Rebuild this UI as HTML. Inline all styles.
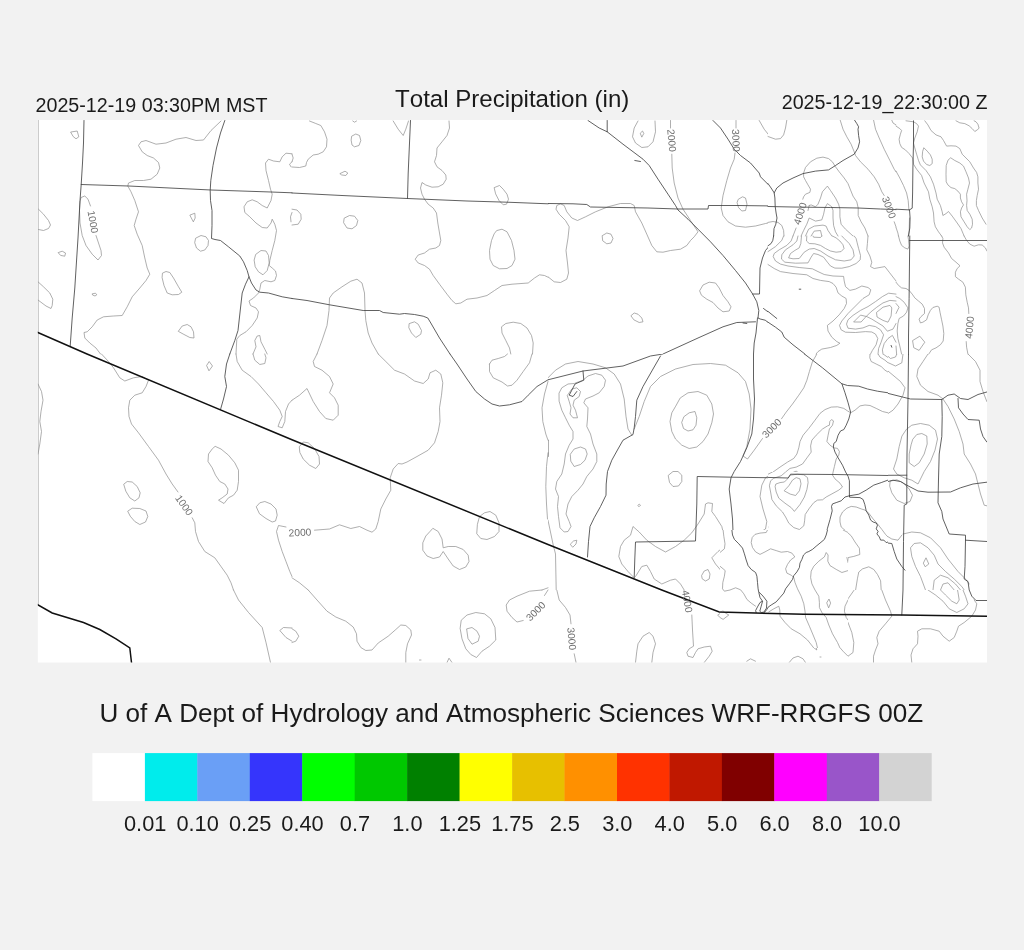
<!DOCTYPE html>
<html><head><meta charset="utf-8"><title>Total Precipitation</title>
<style>
html,body{margin:0;padding:0}
body{width:1024px;height:950px;background:#f2f2f2;position:relative;overflow:hidden;font-family:"Liberation Sans",sans-serif}
svg{display:block;will-change:transform}
text{font-kerning:none}
</style></head><body>
<svg width="1024" height="950" viewBox="0 0 1024 950" style="position:absolute;left:0;top:0">
<defs><clipPath id="m"><rect x="37.8" y="120" width="949.2" height="542.5"/></clipPath><clipPath id="k2"><rect x="548" y="118" width="220" height="236"/></clipPath><clipPath id="k9"><rect x="548" y="354" width="220" height="176"/><rect x="548" y="530" width="172" height="60"/></clipPath><clipPath id="k10"><rect x="888" y="354" width="136" height="236"/></clipPath><clipPath id="k13"><rect x="548" y="590" width="172" height="80"/><rect x="720" y="648" width="48" height="22"/></clipPath><clipPath id="k14"><rect x="848" y="590" width="176" height="80"/><rect x="768" y="648" width="80" height="22"/></clipPath><clipPath id="k15"><rect x="768" y="354" width="120" height="118"/></clipPath><clipPath id="k16"><rect x="768" y="472" width="120" height="58"/><rect x="848" y="530" width="40" height="60"/></clipPath><clipPath id="k17"><rect x="720" y="530" width="128" height="118"/></clipPath></defs>
<rect x="37.8" y="120" width="949.2" height="542.5" fill="#fff"/>
<g clip-path="url(#m)" fill="none" stroke-linejoin="round" stroke-linecap="round">
<path d="M38.3,120 L38.3,604" stroke="#c0c0c0" stroke-width="1"/>
<g stroke="#8c8c8c" stroke-width="0.7"><path d="M71,132L77.2,131L78.8,136.8L76,138.8L73.5,136.8ZM221,121L211,130.5L203.5,140L196,140.5L186,137.5L176,139.2L166,143L156,144.2L146,140.5L141,141.8L138.5,145.5L142.2,151.8L147.2,155.5L153.5,158L158.5,162.5L159.8,168L157.2,174.2L151,179.2L143.5,180.5L134.8,180.5L128.5,183L127.8,186L131,191.8L134.8,200.5L138.5,211.8L136,219.2L134.2,225.5L137.2,234.2L142.2,245.5L144.8,258L147.2,268L149.8,274.2L146,280.5L139.8,288L132.2,296.8L127.2,306.8L122.2,315.5L113.5,316L103.5,316.8L97.2,320L92.2,326.8L87.2,331.8L84,332.5L84.8,338L89.8,343L96,348L100.5,354M90.5,206L88,199.2L84.8,196L81,197.5L80,201.8L79.5,210.5L80,223L82.2,235.5L86,245.5L92.2,254.2L98,260L101.5,255.5L101,250.5L98.5,243L96,235.5M38.5,209.2L43.5,214.2L48.5,220.5L50.5,225L48.5,228.5L43.5,230.5L38.5,229.5M58.5,252.5L62.2,251.2L65.5,253L64.8,256.2L61,255.5ZM38,281.8L43.5,286.8L49.8,293L52.8,299.2L52.2,305.5L51,308.5L46,306L38,300M92.5,293.8L95.5,293.2L96.8,294.8L95,296L93,295.2ZM190.2,215L194.8,213.2L195.2,218L193.5,221.5ZM196,238L201,235.5L206,236.8L208.5,240.5L208,245.5L204.8,250L200.5,251.2L196.5,248L194.8,243ZM162.8,273L166,271.5L169.8,272.5L173.5,278L178.5,286.8L181.8,292.2L178.5,294.5L172.2,294.8L167.2,293L164,285.5L162.2,278ZM178.5,331L182.2,326L187.2,324.5L191,326.8L193.5,331.8L194,338L189.8,337.5L183.5,334.2ZM292,153.8L286,153.2L282.2,156.8L279.8,161.8L273.5,161L268.5,159.2L265.5,163L266,170.5L268.5,180.5L270.5,189.2L272.2,194.2L271,200.5L267.2,208L262.2,205.5L257.2,201.8L252.2,199.8L247.2,201.8L244,206.8L244.8,212.5L249.8,216.8L256,223L262.2,227.5L267.2,228L271,223L272.2,219.2L274.8,224.2L276.5,230.5L274.8,240.5L272.2,250.5L269.8,260.5L269.2,265.5L272.2,268L275.5,271L276.5,275.5L274.8,280.5L271,281.8L264.8,280.5L261,283L259.8,289.2L258.5,293L253.5,298L249,301L250.5,305.5L256,308L258.5,311.8L257.2,318L252.2,325.5L246,331.8L239.8,335.5L236.8,339.2L236,354M256,254.2L261,250.5L266,251L268.5,255.5L269.2,263L267.2,270.5L263,274.8L258.5,271.8L255.2,266.8L254.2,260.5ZM292,161.8L289.5,164.2L291,166.8M292,212.5L290.5,216.8L291,221.8M253,354L256,346.8L254.8,340.5L257.2,336L259.8,335.5L261,341.8L264.8,349.2L267.2,354"/><path d="M309.5,121L315.8,123.5L320.8,125.5L324.5,131.8L327,139.2L326.5,146.8L323.2,151.8L318.2,154.2L313.2,155L308.2,159.2L306.5,162.5L305.8,166L299.5,167.5L292,167M292,154.2L293.2,158L292,161.8M352.8,121L354.5,122.2L356.5,121M352,136L355.8,134L359.5,135.5L360.8,140.5L359,145.5L354.5,146.8L352,145L351.2,140.5ZM340.2,173.5L345,171.2L347.8,173L345.8,175.5L342,175ZM393.2,121L398.2,129.2L403.2,135.5L405.8,129.2L408.5,121M449,121L449.5,128L447,135.5L442,141.8L437,148L436.5,155.5L434.5,161.8L437,166.8L442,170.5L445.8,175L446.2,179.2L443.2,184.2L438.2,186.8L432,187.2L425.8,185L422,182.5L420.5,188L422,194.2L424.5,199.2L428.2,204.2L433.2,208L436.5,213L437.8,223L439.5,233L440.8,240.5L439.5,245.5L435.8,248L429.5,249.2L424.5,253L418.2,255L415.2,259.2L418.2,263L424.5,265.5L429.5,269.2L433.2,275.5L439.5,284.2L447,294.2L452,300.5L455.8,303.8L460.8,303L467,299.2L477,298L487,295.5L494.5,290.5L502,285.5L512,284.2L528.2,283L534.5,278L539.5,274.8L544.5,275.5L548,277.2M494.5,187.5L499.5,185.5L503.2,189.2L507,194.2L508.5,199.2L506.5,204.2L503.2,204.8L499,200.5L495.8,194.2ZM497,230.5L502,229.2L507,231.8L511.5,240.5L514,250.5L515,259.2L512,265.5L507,268.5L499.5,268.8L493.2,265.5L490,259.2L489.5,250.5L491.5,240.5L494,234.2ZM292,209.2L297,210L300.8,214.2L301.2,219.2L298.2,224.2L292,225M344.5,218L349.5,215.5L354.5,216.2L357.8,220.5L356.5,225.5L352,228.8L347,228L343.8,223ZM317,354L322,340.5L327,325.5L329,310.5L329.5,298L333.2,293L342,286.8L350.8,281.2L357,279.2L362,283L364.5,293L365,310.5L365.8,320.5L368.2,333L372,343L378.2,354M409.5,323.5L414.5,321.8L418.2,324.2L421.5,330.5L420.8,334.2L415.8,337.5L411.5,333L409,328ZM510.8,354L509.5,348L505.8,340.5L502,333L501.5,326.8L505.8,323.5L513.2,322.2L520.8,323.5L527,328L531.5,335.5L533.2,343L532.5,354"/><path clip-path="url(#k2)" d="M670.5,120.5L670.5,128M671.8,154.2L672.2,168L674.2,183L678,198L683,209.2L690.5,220.5L695.5,228L698,231.8L694.2,236.8L690.5,240.5L686.8,245.5L680.5,249.2L670.5,250.5L663,252.2L656.8,251.8L651.8,245.5L646.8,234.2L641.8,223L635.5,211.8L634.2,205.5L630.5,203.5L620.5,203.5L608,206.8L595.5,211.8L585.5,216.8L577.5,220.5L571.8,218L566.8,211.8L564.2,205.5L560.5,203.8L556.8,205.5L556,209.2L559.2,214.2L565.5,220.5L569.2,226.8L568,238L566,250.5L567.5,263L568.5,273L566.8,279.2L560.5,282.5L554.2,281.8L548,276.8M638,121L634.2,128L632.5,136.8L635.5,143L641.8,147.5L648,146.8L653,141.8L655.5,131.8L655,121M640.5,133L642.5,131L643.8,133.5L642,136.8ZM736,120.5L736,128M735,153L734.2,159.2L730.5,168L726.8,180.5L723,195.5L721.2,208L723,215.5L728,221.8L735.5,226L745.5,227.2L755.5,226L765.5,223.5L774.2,221.8L779.2,222.5M738.5,199.2L742.5,196.8L745.5,198L747,204.2L745.5,210.5L741.8,211L738.5,207.5L737.2,203ZM759.2,120.5L764.2,129.2L769.2,135.5L775.5,139.2M602.5,235.5L606.8,233L611,234.2L613,238.5L611,243L606.8,243.8L603,241ZM699.8,290.5L703,285L709.2,282.2L715.5,283L719.2,288L723,295.5L728,301.8L731,306.8L729.2,311L723,311.8L718,308L713,302.5L706.8,299.2L701.8,295.5ZM631.2,315.5L634.2,313L638,314.2L641.8,318L643,321.8L639.2,322.5L634.2,320Z"/><path d="M786.8,120.2L785.5,128L783.6,134.9L780.5,138.6L775.5,139.2L768,136.5M840.2,120.2L843,129.2L846.8,136.8L851.1,144.2L854.2,151.8L855.5,155.5L860.5,161.8L868,169.2L874.2,176.8L878.6,184.2L881.8,191.8L884.2,195.5M894.2,221.8L896,226.8M873.6,120.2L875.5,129.2L879.2,138L884.2,149.2L889.9,160.5L894.2,169.2L896,171.8M891.8,120.2L893,123L896,124.9M802.8,199.2L803.6,196.8L805.5,194.2L809.9,192.4L810.5,189.2L808,184.9L805.5,180.5L803.6,176.8L803.6,173L805.5,167.4L810.5,161.8L816.8,158.2L823,157.1L828.6,158.6L832.4,161.8L835.5,166.8L839.2,171.8L844.2,178L848,183.6L850.5,189.9L853,196.1L856.8,201.8L858.2,208L858.2,215.5L861.1,221.8L864.9,228L868,236M796.1,228L793,236M809.2,205.5L811.1,204.9L815.5,206.8L818,204.2L820.5,198L822.4,191.8L827.4,186.1L830.5,190.5L835.5,198L838.6,204.2L839.9,209.2L839.9,216.8L841.1,224.2L845.5,229.2L853,236M801.1,236L803.6,230.5L806.8,224.2L809.2,218L815.5,221.1L821.8,219.9L823.6,214.2L824.9,208L827.4,203.6L831.8,206.8L833,210.5L833,218L833.6,225.5L835.5,231.8L838,236M809.2,205.5L808,210.5M805.5,236L808.6,229.2L814.2,226.1L823,225.1L826.1,226.1L828,230.5L831.8,236M811.1,236L814.2,231.1L820.5,230.5L821.8,236M768,222.4L773,221.5L778,222.4L781.8,225.5L783.6,230.5L784,236"/><path d="M906,120.8L913.5,121.8L916.6,123.6L918.5,126.1L917.2,131.8L914.8,138L913.5,143L914.8,148L916.6,154.2L918.5,160.5L920.4,164.9L926,170.5L930.4,176.8L933.5,184.2L936,193L937.2,199.2L940.4,205.5L942.2,211.8L942.9,215.5L946,213.6L948.5,211.5L952.2,216.1L957.2,223L961,228.6L964.1,236M896,126.1L899.8,128.6L901.6,130.5L900.4,134.2L899.1,139.2L899.8,143.6L901.6,147.4L905.4,149.9L909.1,153.6L912.6,158L913.5,164.2L916.6,169.2L921.6,175.5L924.1,183L928.5,191.8L929.8,199.2L932.2,206.8L933.5,213L934.1,221.8L935.4,226.8L938.5,231.8L941.6,236M896,171.1L899.8,178L903.5,185.5L906.6,193L908.2,200.5L908.9,209.9M924.8,120.8L927.9,124.9L931,130.5L936,134.9L941,136.8L943.5,140.5L946.6,146.1L951,145.8L956,146.1L959.8,148.6L962.2,154.2L966,158L969.8,161.8L973.5,168L976.6,172.4L977.9,176.8L977.9,183L978.5,189.2L977.2,195.5L976.4,200.5L976.4,205.5L978.5,210.5L982.2,218L986,224.2M956,120.8L959.8,122.8L964.8,123.6L969.1,125.8L972.2,128.6L974.8,131.5L977.2,129.9L979.1,128.2L977.9,124.2L976,121.8L974.1,120.8M924.1,148L927.2,151.1L930.4,154.9L932.2,159.2L932.2,163.6L929.8,165.5L926.6,164.5L923.5,161.1L922.2,156.8L922.6,151.8ZM951,158L954.8,160.5L959.8,163L963.5,166.1L966,171.8L968.5,178L969.5,183L967.9,189.2L966.6,194.2L967,200.5L966.6,205.5L967.2,210.5L969.8,214.2L972.2,219.2L972.5,224.2L971.6,228L969.8,229.6L967.2,226.8L964.1,221.8L961,216.8L960.4,211.8L961.6,208L963.5,204.9L961.6,201.8L960.4,198L960.4,194.2L957.9,191.1L954.8,188.6L951,187.6L947.9,184.9L946.2,181.8L946,174.2L946.2,165.5L947.9,160.5ZM896,227.4L897.9,233L898.5,236M908.5,236L909.2,230.5L909.5,218"/><path d="M768,264.5L774.2,268.5L780.5,271.6L793,273.5L806.8,274.8L813,278.5L820.5,280.4L829.2,281.6L833,283.5L836.1,287.2L838,292.9L841.8,296L846.1,298.5L846.5,303.5L844.2,308.5L839.2,314.8L833,321L827.4,325.4L828,331L831.8,337.2L836.8,341.6L839.9,343.2L836.8,345.4L830.5,347.5L821.8,349.1L818,351.6L816.1,354M768,251.6L775.5,246.6L781.8,240.4L783.6,236M793,236L791.1,241L786.8,245.4L779.2,249.8L774.2,253.5L773.2,256.6L775.5,261L780.5,264.1L788,266L799.2,267.5L812.4,268.8L818,271.6L824.2,274.5L833,276L843.6,276.4L844.2,281L845.5,286.6L849.9,290.4L855.5,289.1L861.8,286L868,287.5L870.8,289.8L869.2,294.8L863,298.5L855.5,306L848,313.5L841.8,321L839.5,325.4L841.1,329.8L845.5,332.2L855.5,332.5L865.5,331.6L871.8,332L875.5,334.1L877.8,338.5L876.1,344.8L872.4,350.4L870.5,354M868,236L867.4,243.5L866.8,249.8L869.9,256L871.8,262.2L870.5,266.6L874.2,268.5L884.9,266.6L889.2,272.2L896,281M798,236L796.8,241L793,244.8L785.5,249.8L781.8,254.8L781.5,259.1L784.9,262.2L795.5,263.2L808,262.9L811.1,257.2L813.6,253.5L818,254.5L823.6,257.2L827.4,262.2L830.5,266L834.9,268.1L841.8,268.2L849.2,266.6L856.1,263.5L860.2,259.8L860.5,255.4L858.6,248.5L857,242.2L856.1,238.5L854.2,236M801.5,236L800.8,243.5L799.2,247.9L794.9,250.4L790.5,253.5L788.6,257.9L793,258.8L799.2,258.5L804.2,252.2L809.2,249.1L814.2,248.5L820.5,251L828,256L835.5,259.8L844.2,261L851.1,259.8L854.2,256L853,249.8L849.2,243.5L844.2,238.5L841.8,236M806.8,236L806.5,241L809.2,243.5L814.9,243.8L820.5,245.4L825.5,248.5L830.5,251L836.1,252.2L841.1,251.6L844,248.5L843,244.8L839.9,241L836.1,237.9L832.4,236M813,236L813.6,237.2L820.5,237.5L821.8,236M896,294.1L888.6,293.2L882.4,296.6L875.5,301.6L868,306.6L860.5,310.4L853,315.4L848,319.8L846.5,324.1L848,328.2L855.5,329.1L863,327.9L869.2,325.4L875.5,326.6L880.5,329.8L883.6,334.8L881.1,342.2L878.6,348.5L878,354M896,301L889.9,300.4L883,302.9L876.8,307.2L870.5,312.2L865.5,317.2L861.1,322L853.6,322L860.5,315.1L866.8,316.6L871.8,319.1L876.8,322.2L883,326L887.4,331.2L893,329.1L896,323.5M876.8,312.2L883,307.2L889.9,305.4L891.8,307.9L891.1,316L888,322.2L883,320.4L877.4,317.2ZM896,342.2L892.4,335.4L888,338.5L884.2,343.5L882.4,349.8L883,354"/><path d="M898.5,236L899.8,241L901.6,245.4L904.8,247.9L907.9,249.1L909.1,246L908.5,239.8L907.9,236M941.6,236L942.9,238.5L942.5,242.9L944.1,247.2L948.5,252.9L951.6,258.5L956,262.2L960,265.8L957.2,268.5L955.4,272.2L955.4,276.6L958.5,279.1L962.9,282.2L965.4,287.2L965.8,294.8L967.2,302.2L968.5,307.9L968.8,313.5M966.2,341.6L966.6,347.2L967.9,354M964.1,236L966.6,240.4L969.8,244.1L974.1,246.2L978.5,244.8L982.2,245L985.4,247.9L986.9,251M896,282.2L898.5,285.4L901.6,287.9L906,288.5L909.1,290.4L912.2,294.1L914.8,297.9L918.5,301L922.2,304.1L924.5,308.5L924.5,313.5L921,316.6L919.1,319.1L920.4,322.9L922.9,322.2L926.6,319.8L928.2,314.8L930.4,310.4L932.9,307.5L937.2,306.2L939.1,307.2L940,312.2L941.6,319.8L942.9,326L943.8,333.5L943.2,341L940.4,344.8L936,347.9L931.6,349.8L928.8,354M896,296.6L899.8,298.5L904.1,302.2L907.9,307.9L906.6,312.2L903.5,316L899.1,318.5L897.9,323.5L897.2,331L897.9,338.5L899.8,346L901.6,354M896,303.5L899.1,307.2L897.2,311L896,313.5M912.9,340.4L919.8,336.2L924.8,342.2L919.1,350.4L914.1,347.9ZM896,346L896.6,354"/><path d="M38,384L41.5,391.5L43,400.2L41,411.5L39.8,421.5L41.5,431.5L39.8,444L38,454M101.5,354L108.5,361.5L113.5,367.8L119.8,377.8L124.8,381L133.5,377.8L142.2,376.5L148.5,380.2L146,386.5L142.2,392.8L134.8,395.2L129.8,400.2L128.5,407.8L129,416.5L131.5,424L138.5,432.8L148.5,446.5L158.5,460.2L166,474L172.2,484L178,492M192.2,517.8L194.8,522.8L195.5,531.5L198.5,541.5L204.8,551.5L214.8,557.8L221,566.5L227.2,575.2L231,582.8L233.5,590M206.8,365.2L209.2,361.5L212.5,366L209.2,370.5ZM236,354L237.2,361.5L242.2,370.2L251,376.5L258.5,384L266,392.8L273.5,401.5L279.8,410.2L282.2,416.5L279.8,421.5L278,426.5L282.2,427.8L284.8,421.5L285.5,411.5L288.5,404L292,400.2M253,354L254.8,360.2L259.8,364.5L264.8,363.5L266,357.8L264.8,354M215.5,446.5L221,449L228.5,455.2L234.8,462.8L238.5,470.2L238.5,481.5L237.2,490.2L233.5,495.2L228.5,497.8L224,503.5L218.5,500.2L222.2,497.8L227.2,494L228,489L224.8,484L219.8,481.5L215.5,475.2L212.2,467.8L208,461.5L208.5,454L212.2,449ZM124,484L127.2,481.5L132.2,482L137.2,486.5L140.2,492.8L139,497.8L134.8,501L129.8,497.8L126,491.5ZM128,511L132.2,508.2L139.8,508.5L146,511L147.8,516.5L145.5,522L139.8,524.5L134.8,521.5L130.5,516.5ZM256.5,506.5L259.8,502.8L264.8,501.5L271,504L276,509L277.2,515.2L275.5,521L272.2,522L266,518.5L259.8,514ZM286,527L278.5,525.5L276.5,531.5L278.5,540.2L282.2,551.5L286,561.5L289.8,571.5L292,576.5"/><path d="M317,354L313.2,361.5L314.5,366.5L322,370.2L329.5,376.5L333.2,384L329.5,392.8L334.5,397.8L338.2,405.2L338.2,415.2L333.2,420.2L325.8,418.5L319.5,411.5L313.2,401.5L307,388.5L299.5,395.2L292,400.2M378.2,354L385.8,361.5L394.5,370.2L404.5,374L414.5,381L423.2,383.5L428.2,379L430,372.8L435.8,370.2L440.8,374L442.8,382.8L441.5,395.2L439.5,407.8L440,421.5L438.2,431.5L434.5,442.8L428.2,450.2L417,456.5L407,462L402,464L398.2,463.5L393.2,469L390.2,477.8L390.8,490.2L385.8,499L380.8,509L378.2,521.5L375.8,529L372,532.2L367,530.2L359.5,526.5L350.8,528.5L339.5,524.8L329.5,529L314.5,530.2M299.5,446.5L303.2,442L308.2,442.8L314.5,448.5L319,456.5L319.5,464L315.8,468.5L309.5,465.2L303.2,459L300,452.8ZM489.5,364L492,360.2L498.2,358.5L504.5,356.5L507.5,354M532,354L529.5,362.8L523.2,371.5L517,380.2L512,385.2L507.5,386L502,382L493.2,377.8L489.5,371.5L489.5,364M548,381.5L544.5,394L542,407.8L542.8,421.5L545.8,434L548,440.2M548,452.8L546.5,466.5L545.8,486.5L546.5,504L547.5,519M477.5,524L479.5,516.5L484.5,512.8L490,511.5L495.8,515.2L499,522.8L499,531.5L494.5,536.5L487,539.5L480.8,538.5L477,534ZM433.2,528.5L438.2,531.5L442,539L443.2,547.8L448.2,546.5L455.8,546.5L463.2,549.5L468.2,555.2L469,561.5L465.8,567L459.5,569.5L453.2,566L448.2,559L443.2,551.5L439.5,557L433.2,558.5L427,556L422.8,550.2L422.8,542.8L425.8,536L429.5,532ZM292,577.8L299.5,582.8L308.2,590M542,590L548,587.8"/><path clip-path="url(#k9)" d="M548,377.8L555.5,370.2L565.5,364L578,361.5L593,364L605.5,367.8L614.2,374L620.5,384L624.2,399L626,416.5L628,429L631.8,435.2M548,520.2L553,544L555.5,554L556.2,590M559.2,392.8L561.8,387.8L568,384L574.2,383.5L583,380.2L588,376L595.5,373.5L601.8,375.2L605.5,380.2L604.2,386.5L599.2,392.8L593,396L585.5,399L583.8,402.8L588,407.8L587.5,419L586.8,426.5L590.5,434L593,444L596.8,454L596.8,461.5L593,469L586.8,476.5L583,484L578,490.2L571.8,496.5L568,504L566,514L569.2,521.5L571,526.5L568,531.5L564.2,532L560,527.8L558.5,516.5L557.5,506.5L558.5,496.5L555.5,489L556.8,481.5L561.8,474L564.2,464L565.5,454L569.2,445.2L573,439L573,431.5L569.2,425.2L565.5,417.8L561.8,410.2L559.2,401.5ZM567.5,395.2L571.8,389L576.8,387.8L580.5,391.5L579.2,396.5L574.2,400.2L573,405.2L575.5,410.2L577.5,417.8L573,417.8L570,414L571,407.8L569.2,401.5ZM570.5,454L574.2,449L580.5,447L585.5,449L587.2,454L585,460.2L580.5,464.5L574.2,466.5L571,461.5ZM570.5,544L573.5,541L576.8,540.2L576,544L573,547ZM804,389L794.2,401.5L784.2,414L780,419.5M762.5,438.5L754.2,450.2L747.5,459L743,456L746.8,446.5L750,429L751,409L749.2,394L745.5,381.5L738,372.8L725.5,365.2L710.5,363.5L693,364.5L675.5,369L660.5,376.5L650.5,386.5L644.2,401.5L639.2,416.5L634.2,429M680.5,397.8L688,392.8L698,391.5L706.8,395.2L711.8,404L713.5,414L711.8,422.8L708,434L703,441.5L696.8,447L689.2,448.5L681.8,445.2L675.5,439L671.8,431.5L670,421.5L671.8,412.8L675.5,406.5ZM684.2,416.5L689.2,412.8L695,411.5L696.8,417.8L696,425.2L693,429.8L688,431L683.5,428.5L681.8,422.8ZM668.5,475.2L673,471.5L678,471.5L681.8,475.2L681.8,481.5L678.5,486L673,486.5L669.8,482.8ZM638.2,505.2L639.2,504L640.5,505.2L639.2,506.5ZM634.2,577.8L628,571.5L621.8,564L618.8,556.5L620.5,546.5L624.2,540.2L630.5,535.2L633,526.5L639.2,532L646.8,540.2L655.5,546.5L665.5,552L675.5,546.5L684.2,540.2L691.8,532.8L698,524L704.2,514L705.5,504L708,502.8L712.5,503.5L711.8,511.5L715.5,516.5L721.8,526.5L724.2,536.5L724.2,546.5L718,551.5L711.8,557.8L715.5,564L721.8,571.5L725.5,579L726.8,590M635.5,576.5L641.8,566.5L646.8,565.2L650.5,571.5L654.2,579L661.8,584L670.5,580.2L675.5,579L680.5,584L684.2,590M701.8,575.2L704.2,571L708,569.5L710,574L709.2,579L705.5,581L702.5,579ZM731.8,590L736.8,588.5L741.8,590M804,436.5L800.5,444L798,454L791.8,461.5L783,467.8L773,472.8L765.5,477.8L761.8,485.2L760,496.5L763,509L766.8,521.5L765.5,529L759.2,532.8L754.2,536.5L751.8,544L755.5,551.5L760.5,554L770.5,551.5L780.5,550.2L789.2,551.5L794.2,556.5L791.8,564L788,571.5L794.2,579L800.5,584M804,464L795.5,465.2L786.8,470.2L776.8,476.5L771.8,481.5L770,489L771.8,499L778,506.5L784.2,514L788,521.5L794.2,526.5L804,529M804,471.5L794.2,472.8L785.5,476.5L779.2,480.2L776,486.5L778,494L784.2,500.2L790.5,505.2L795.5,511.5L800.5,504L804,497.8M784.2,490.2L789.2,482.8L795.5,477.8L800.5,479L799.2,486.5L796.8,494L791.8,495.2Z"/><path clip-path="url(#k10)" d="M815.5,354L809.2,366.5L805.5,379L799.2,391.5L790.5,404L781.8,414M873,354L869.2,359L875.5,364L885.5,369L893,375.2L900.5,381.5L905,387.8L903,395.2L898,404L893,410.2L888,413.5L881.8,411.5L874.2,407.8L865.5,406L856.8,408.5L850.5,412.8M879.2,354L885.5,361.5L895.5,366L901.8,362.8L903,354M885.5,354L890.5,358.5L895.5,357L896.8,354M928,354L923,361.5L918,369L916.8,376.5L920.5,385.2L928,391.5L938,395.2L943,399L948,406.5L954.2,419L959.2,431.5L963,444L964.2,454L970.5,464L975.5,474L978,484L980.5,494L984.2,505.2L986.8,505.8M968,354L975.5,361.5L980,370.2L980,381.5L983,391.5L986.8,401.5M768,472.8L778,466.5L788,459L796.8,450.2L800.5,440.2L808,429L815.5,419L823,411.5L831.8,407L840.5,407L848,410.2L850.5,412.8M769.2,476.5L780.5,467.8L790.5,464L803,464L810.5,452.8L811.8,441.5L818,434L824.2,427.8L829.2,422.8L830.5,419.5L833.5,421L832.5,426.5L829.2,434L828,441.5L830.5,445.2L836.8,450.2L839.2,454L835.5,464L833,474L839.2,480.2L842.5,486.5L835.5,491.5L828,494.5L818,499L811.8,506.5L805.5,519L803.5,526L798,529L790.5,526L786.8,519L781.8,511.5L774.2,502.8L770.5,494L768,484M776.8,484L780.5,477.8L789.2,473.5L796.8,471.5L804.2,473.5L808,479L807.5,489L804.2,501.5L799.2,507.8L794.2,511.5L789.2,506.5L783,501.5L778,495.2L776,489ZM784.2,490.2L789.2,484L793,479L798,477L801,481.5L800,490.2L796,495.2L790.5,493.5ZM906.8,429L911.8,425.2L920.5,423.5L929.2,425.2L935.5,430.2L937.5,439L935,450.2L930.5,461.5L924.2,471.5L920.5,479L918,484L911.8,480.2L904.2,477.8L896.8,474L893.5,469L896.8,459L899.2,446.5L901.8,436.5ZM913,439L916.8,434.5L921.8,433.5L926.8,436L927.2,444L924.2,454L919.2,462.8L914.2,466.5L909.2,462.8L909.2,454L911,445.2ZM890.5,481L896.8,479.8L903,482.8L909.2,489L912.5,495.2L910,501.5L904.2,503.5L896.8,500.2L891.8,492.8L889.8,486.5ZM768,549L778,551.5L786.8,551L793,555.2L790.5,561.5L786.8,569L789.2,576.5L794.2,584L795.5,590M810.5,590L811.8,574L816.8,564L824.2,557.8L826,552.8L828,554L828,561.5L833,569L840.5,572.2L846.8,567.8L848.5,559L854.2,556L859.2,554L858.5,544L853,537.8L845.5,531.5L840.5,524L839.8,516.5L844.2,510.2L851.8,506.5L859.2,507L865.5,510.2L866.8,514L873,521.5L879.2,529L885.5,535.2L891.8,539L898,540.2L901.8,535.2M856.8,590L857.5,579L860.5,571.5L866.8,567.8L873,567.8L878,572.8L881,581.5L881.8,590M903,534L911.8,532L920.5,532.8L930.5,537.8L940.5,547.8L948,559L958,571.5L965.5,579L969.2,584M925.5,590L920.5,576.5L915.5,566.5L911.8,556.5L910.5,547.8L914.2,543.5L920.5,542.8L928,547.8L934.2,555.2L938,564L945.5,571.5L954.2,579L961.8,586.5L964.2,590M923.5,562.8L926,557.8L928.8,564L925.5,566.5ZM933,590L934.2,580.2L940.5,575.2L948,577.8L955.5,584L960.5,590M940.5,590L943,584L948,582.8L954.2,590"/><path d="M233.5,590L238.5,600L248.5,612.5L262.2,627.5L266,642.5L270.5,662.5M292,628L283.5,627.5L279.8,630.5L286,637.5L292,641.2"/><path d="M308.2,590L317,600L327,611.2L335.8,617L345.8,621.2L353.2,627L356.5,633.8L357,641.2L360.8,647.5L365.8,650.5L372,650L378.2,643L388.2,636.2L395.8,629.5L400.8,625L405.8,625.5L410.8,630L411.5,635L407.5,643.8L405.8,652.5L405.8,662.5M292,628.8L295.8,631.2L298.8,636.2L295.8,641.2L292,642.5M447,662.5L449,658.2L452,662.5M419.5,660L421,660M461.5,620L467,615L475.8,612.5L484.5,613.8L490.8,618.8L495,627.5L495.8,640L489.5,646.2L482,651.2L476.5,657.5L470.8,654.5L465.8,648.8L462,638.8L460.2,628.8ZM467,628.8L472,627.5L477,631.2L479.5,636.2L478.2,641.2L472,644.2L468.2,638.8ZM542,590L529.5,591.2L517,596.2L509.5,600L506.2,605L507,611.2L512,617.5L517,622L523.2,620.5M544.5,595.5L548,590"/><path clip-path="url(#k13)" d="M556.8,590L559.2,600L565.5,607.5L570,615L571,623.8M574.2,653.8L576,662.5M691.8,615L692.5,630L693.5,646.2L689.2,648.8L686.8,652.5L688,656.2L693,657.5L695.5,652.5L698,648.8L704.2,647L710.5,646.2L712.2,651.2L709.2,656.2L704.2,662.5M718,615L723,611.2L728,615L723,619.5ZM635.5,662.5L636.8,651.2L638,643.8L643,636.2L649.2,632.5L653,636.2L655.5,643.8L653,652.5L651.8,662.5M723,590L728,591.2M741.8,590L748,597.5L755.5,605L759.2,608.8M774.2,608.8L779.2,606.2L780.5,615L785.5,622.5L794.2,631.2L800.5,636.2L804,637.5M746.8,661.2L750.5,658.8L755.5,661.2M788,662.5L794.2,657.5L800.5,657L804,658.8"/><path clip-path="url(#k14)" d="M795.5,590L801.8,598.8L804.2,610L805.5,620L809.2,630L814.2,640L816.8,650L811.8,646.2L803,637.5L791.8,630L783,622.5L779.2,615L779.2,606.2L773,610M815.5,590L819.2,600L819.2,608.8L824.2,617.5L828,625L829.2,632.5L835.5,642.5L843,651.2L848,656.2L853,652.5L853.8,642.5L851.8,632.5L848,622.5L844.2,615L844.2,607.5L848,598.8L854.2,590M827.2,602.5L829.2,598.8L831,603.8L829.2,608ZM881.8,590L885.5,600L890.5,611.2L891.8,616.2L885.5,623.8L879.2,631.2L876.8,637.5L878,643.8L875.5,650L873.5,656.2L873.5,662.5M911.8,662.5L911,655L913,648.8L917.5,643.8L918,636.2L917.5,631.2L921.8,628.8L930.5,628.8L939.2,631.2L943,636.2L949.2,641.2L954.2,637.5L956.8,631.2L958.5,626.2L964.2,622.5L971.8,616.2L975.5,610L976.8,603.8L974.2,600M928,590L935.5,595L943,601.2L949.2,608.8L956.8,612.5L964.2,608.8L968,603.8L965.5,596.2L963,590M940.5,590L945.5,595L951.8,601.2L956.8,603.8L959.2,600L958,592.5L957.5,590M789.2,662.5L793,658L798,656.2L803,658.8L805.5,662.5M820,657L821,657"/><path clip-path="url(#k15)" d="M816.9,354L812.5,361.5L809.4,371.5L806.9,380.2L803.8,387.8L798.8,395.2L792.5,404L786.2,412.1L781.5,418.8M773.1,472L780,467.1L787.5,462.1L793.8,458.4L796.9,454L798.8,447.8L800,441.5L803.1,435.2L808.8,428.4L815,420.2L820,413.4L825,409.6L831.2,407.1L837.5,406.8L843.8,408.4L847.5,410.9L850.6,412.8L855,410.2L860,405.9L865,405L870,405.5L876.2,408.4L882.5,411.5L888,412.8M785.6,472L790,468.4L796.2,467.1L802.5,464L807.5,457.1L811.2,452.1L810.6,445.9L811.9,440.2L816.2,435.2L822.5,429L827.5,425.9L829.4,425.2L829.8,421.5L831.5,419.6L833.5,420.9L832.5,425.2L829.4,429L828.1,435.2L826.9,441.5L830,445.2L833.8,447.8L837.5,448.4L839.4,451.5L838.8,455.2L836.2,459L834.4,466.5L833.1,472M870,354L869.8,357.8L871.2,361.5L876.2,364L881.2,366.5L885,370.2L888,372.1M878.1,354L880,357.1L885,360.2L888,362.8M883.1,354L888,357.5M793.8,472L796.2,471.2L797.5,472"/><path clip-path="url(#k16)" d="M784.4,490.5L788.8,485.8L792.5,480.1L796.2,477.6L800,478.9L801,483.9L799.4,490.8L795.6,495.5L790.6,494.2ZM776.2,483.9L780,482.6L784.4,482L786.9,479.5L790.6,475.1L797.5,474.2L803.8,474.8L807.5,477.6L808.1,482.6L806.9,489.5L804.4,497L800,504.5L794.4,511.4L791.2,507.6L785,503.2L778.8,498.2L776.2,492L775.2,487ZM785.6,472L781.2,475.8L773.8,478.2L770.6,480.8L769.4,485.8L770.6,492L771.9,499.5L776.2,505.8L782.5,512L785.6,517L788.8,523.2L793.8,527.6L799.4,529.5L803.8,525.8L804.6,520.8L805.2,514.5L809.4,508.2L813.8,502.6L817.5,500.1L822.5,499.8L826.2,497L831.9,493.9L838.8,490.1L842.5,487L840,483.2L835,478.9L832.5,475.1L833.1,472M772.5,472L767.5,474.5L763.8,478.2L761.2,484.5L760,491.4M760,500.8L761.9,509.5L764.4,518.2L766.9,523.2L767.8,527L766.9,532L765.6,533.9L762.5,533.5L760,533M760,554.5L765,552L770.6,548.2L776.2,550.1L782.5,552L788.8,551.8L791.9,553.2L794.8,557L790.6,560.8L787.5,564.5L785.6,568.9L786.9,573.2L791.2,575.8L793.8,578.2L795.6,583.2L797.5,590M888,537L885.6,534.5L881.9,529.5L877.5,523.9L873.1,518.9L868.8,513.2L865,510.1L861.2,508.9L856.2,507L851.2,506.4L846.9,508.2L842.5,512L840,517L840,522L841.2,527L845.6,530.8L851.2,535.8L855,542L859.4,548.2L859.8,554.5L853.8,556.4L848.1,557.6L847.5,563.2L847.5,570.8L842.5,572.4L837.5,570.8L831.9,567L828.1,564.5L827.8,559.5L828.5,554.5L826.2,552.6L824.8,554.5L824.4,558.2L820,561.4L815,565.8L811.2,570.8L810.2,575.8L811.9,582L815,587L817.5,590M855.6,590L857.5,578.2L858.8,572L862.5,568.9L868.8,566.8L873.8,569.5L877.5,574.5L880.6,580.8L881.2,590"/><path clip-path="url(#k17)" d="M723.1,530L723.8,536.2L725,543.8L724.4,548.8L720,552.5M720,566.2L723.1,568.8L725.2,570.6L724.4,576.2L722.8,582.5L722.5,588.8L724.4,591.2L730,590L735.6,587.8L740.6,589.8L743.8,593.8L746.9,599.4L751.2,603.1L755.6,606.2M767.5,530L766.2,532.5L760,533.1L755,534.4L752.2,537.5L751.2,542.5L752.5,547.5L755.6,551.9L760,554.4L765,551.9L770.6,548.8L776.2,550.6L781.2,552.2L787.5,551.5L791.9,553.1L794.8,556.9L790.6,560L787.5,564.4L785.6,568.8L786.9,573.1L791.2,575.2L793.8,577.5L795,582.5L797.5,588.8L801.2,596.2L803.8,603.8L805,611.2L805.6,617.5L809.4,626.2L813.1,635L816.2,642.5L817.5,648M768.8,611.9L773.8,608.8L778.8,606.2L779.8,610L780,616.2L785,622.5L791.2,628.8L800,633.8L807.5,640L813.8,648M848,570.6L841.9,572.5L836.2,569.4L830,565.6L827.8,561.2L828.1,555L826.2,552.5L824.4,556.9L818.8,561.2L813.8,566.2L811.2,571.2L810.6,577.5L811.9,583.8L815,590L818.8,596.2L819.4,602.5L819.4,607.5L821.9,612.5L826.2,617.5L828.8,625L832.5,633.8L837.5,642.5L840,648M826.9,602.5L829,599L830.6,603.1L828.8,607.5ZM848,600L845,606.2L844.4,611.2L846.2,617.5L848,620M720,611.9L723.1,611L725.6,613.1L728.8,615L723.1,619.4L720,617.5M843.1,530L848,532.5M846.9,557.5L848,562.5"/></g>
<g stroke="#383838" stroke-width="0.8"><path d="M84,120.5L83.5,143L82.5,163L81.2,184.5L80,200.5L78,238L74.8,288L72.2,318L70.2,346M81.2,184.5L128.5,186L211,190L271,192L292,192.8M224.8,120.5L220.5,133L216.5,148L213,165.5L210.8,180.5L210.2,190.5L210.5,200.5L212,210.5L212,225.5L211.5,238.5L215,239.5L220.5,240.5L228.5,246.8L239.8,256L243.5,261.8L247.2,270.5L249,276.8L245.5,284.2L242.2,293L240.5,308L238,330.5L234.8,340.5L229.8,354M249,276.8L251.5,283L256,290L259.8,292.2L268.5,293L282.2,296.8L292,298.5"/><path d="M292,193L342,195.5L407.5,198.5L467,201L507,202.2L548,203.8M410.5,120.5L409.5,143L408.2,173L407.5,198.5M292,298.5L307,300.5L329.5,304.8L363.2,310.5L379.5,310.5L383.2,312.5L399.5,314.2L404.5,313.5L414.5,314.5L423.2,316.2L427.8,318L430.8,323L439.5,338L450,354"/><path clip-path="url(#k2)" d="M548,203.5L573,203.8L586.8,204.5L590.5,207L648,208L678,209L708,209L708.5,205.5L738,205.5L775.5,206L804,207M588,120.5L599.2,128L607.2,131.8L623,144.2L643,159.2L649.2,165.5L658,179.2L668,194.2L675.5,205.5L678,210L688,219.2L698,229.2L710.5,241.8L723,255.5L735.5,270.5L745.5,283L752.5,293.8L756.8,301.8L758.8,310.5L758,318L760.2,319L765.2,320.2L772.8,326L781,331.5L783.2,334.2L784.2,338L790.5,343L799.5,349.8L804,353M607.2,120.5L607.2,131.8M713,120.5L720.5,128L728,139.2L734.2,149.2L740.5,155.5L750.5,163L759.2,173L760.5,176.8L769.2,185.5L774.2,192.5L776,205.5L777,218L774.2,230.5L771.8,243L765.5,250.5L762.5,258L760,268L759.8,278L759.5,294L752.5,294M663,354L698,338L723,326.8L736.8,322.5L755.5,321.8M757.5,318L756,333L754.2,343L753.5,354M763.5,308.5L776.8,318.5M634.8,160.5L640.5,161.5M743,323L746.8,323.5"/><path d="M768,183.6L771.1,188L774.2,192.8L774.9,198L775.2,206.5L776.1,213L777,218L775.8,224.2L774,228.6L773.6,236M774.2,192.8L776.8,188L783,183L793,178L803,173.6L815.5,171.1L828.6,169.9L835.5,165.5L843,160.5L854.2,154.2L858,148L859.6,141.8L858.6,135.5L858,129.2L858.6,126.8L856.8,123.6L854.6,120.2M768,206.5L793,207L830.5,207.5L858,208L880.5,209L896,209.6"/><path d="M913.5,120.8L913.5,143L912.9,168L912.6,193L912.2,208.2L909.5,209.9L896,209.2M909.5,209.9L910.1,218L909.8,228L908.5,236"/><path d="M773.6,236L772.8,240.4L771.1,243.5L768,245.8M768,322.2L775.5,327.2L781.8,332L784.2,337.2L793,344.8L804.9,354M768,311.4L776.8,318.5M799.2,289.2L800.8,289.2M891.1,345.4L891.8,347.2"/><path d="M909.8,236L909.5,261L909.1,298.5L908.5,336L908.5,354M909.5,240.5L986.9,240.5"/><path d="M229.8,354L226.5,364L224.8,376.5L226.5,386.5L223.5,399L220.5,409.5"/><path d="M450,354L457,364L467,379L475.8,391.5L484.5,399L492,404L499.5,406L509.5,404.8L522,401.5L528.2,395.2L537,386.5L548,379.8"/><path clip-path="url(#k9)" d="M548,379.8L583,371L623,366L650.5,356L663,354M660.5,356L653,369L643,386.5L636.8,400.2L635.5,416.5L634.2,427.8L633,434.5L623,440.2L618,449L611.8,460.2L607.5,471.5L606.2,484L606,495.2L600.5,506.5L594.2,517.8L590,526.5L588.5,541.5L587.5,557M583,371L583.8,380.2L575,384L571.8,390.2L569.2,395.2L573,396.5L576.8,391.5M753.5,354L753.5,379L754.5,399L753.5,419L751.8,434L746.8,447.8L740.5,461.5L734.2,471.5L731,477.8L729.2,489L731,504L732.5,519L733,531.5L736,540.2L743,550.2L746.8,561.5L754.2,571.5L757.5,579L758.5,590M804,475.8L789.2,474.8L788,478L731.8,477.2L697.2,476.5L696.8,504L695.5,541L635.5,542L634.8,559L634.2,577.8M804,554L799.2,566.5L794.2,575.2L788,584L784.2,590M548,440.2L548,456.5"/><path clip-path="url(#k10)" d="M804.2,354L823,369L841.8,383.5L860.5,386L880.5,391.5L910.5,399L941.8,399.5L948,395.2L954.2,394L960.5,398.5L968,399.5L978,394.5L986.8,392M841.8,383.5L845.5,394L850.5,411.5L845.5,426.5L840.5,432.8L836.8,439L833.5,444L834.2,450.2L839.2,457.8L844.2,467.8L848.5,476.5L849.2,496.5L861.8,497.8L864.2,502.8L865.5,510.2L869.2,517.8L871.8,522.8L876.8,524L878,529L876.8,532.8L879.2,537.8L884.2,539.5L885.5,542.8L891.8,543.5L894.2,551.5L896.8,559L901.8,566.5L905,570.2M768,477L788,477.8L790.5,474.5L848.5,475.5L906.8,475.2M908.5,354L908,399L907,454L906.8,475.2L906.8,504L904.2,505.2L903.5,541.5L903,590M941.8,399.5L942.2,416.5L941.8,436.5L939.2,454L938.5,479L938,502.8L941.8,511.5L943,519L949.2,534L965.5,535.2L965.5,540.2L986.8,541.5M965.5,540.2L965,566.5L964.2,579L968,581.5L969.2,590M849.2,496.5L858,494.5L868,489L880.5,483.5L893,480.2L900.5,481.5L906.8,485.2L918,491L928,492.2L950.5,492L960.5,487.8L973,484L986.8,482.2M958,398.5L958.5,407.8L963,414L968,419.5L979.2,420.2L980.5,429L983,436.5L986.8,442M785.5,590L793,579L799.2,566.5L803,554L809.2,550.2L816.8,544L823,540.2L826.8,531.5L829.2,519L832.5,505.2L843,500.2L849.2,496.5"/><path clip-path="url(#k13)" d="M784.2,590L783,595L776.8,601.2L770.5,606.2L765.5,611.2M758.5,592L761.8,596.2L766.8,601.2L765.5,607.5L763,612.5M761.8,601.2L756.8,608.8L755.5,612.5L759.2,612.5L763.5,602.5"/><path clip-path="url(#k14)" d="M903,590L901.8,615M969.2,590L971.8,596.2L976,600.5L986.8,600.5M785.5,590L783,595L775.5,601.2L768,607.5"/><path clip-path="url(#k15)" d="M804.4,354L822.5,367.8L841.9,383.8L847.5,385.5L858.8,386.2L867.5,389L877.5,391.2L888,392.8M841.9,383.8L845,392.8L848.1,402.8L850.6,412.1L848.8,419L846.2,425.2L843.8,429.6L840.6,430.9L838.1,435.2L836.2,441.5L833.8,443.4L833.4,447.1L835,452.1L838.1,457.8L842.5,465.2L845.6,472"/><path clip-path="url(#k16)" d="M760,477.2L788.1,478L790.6,474.2L835,474.5L888,475.5M845.6,472L848.1,476.4L849.4,480.8L849.4,495.8L849.6,497.2L860,497.6L863.1,499.5L864.8,504.5L866.2,510.8L868.8,515.1L870.6,520.1L873.1,522L876.2,523L877.5,525.1L876.2,528.9L878.1,531.4L876.9,533.9L879.4,537L880.6,540.1L883.8,540.1L886.2,542.6L888,542M849.4,495.8L845,497L841.2,500.8L836.2,502.6L832.5,503.9L831.5,506.4L832.2,510.8L830,519.5L827.5,528.2L825.6,535.8L823.8,539.5L818.1,543.2L815,547L810,551.4L806.9,551.6L803.8,554.5L801.9,559.5L800.6,562L799.4,567L795.6,572L793.1,575.8L792.8,579.5L789.4,584.5L785.6,590M849.4,495.8L858.8,494.2L866.2,490.1L873.8,485.1L881.2,482.6L888,480.1"/><path clip-path="url(#k17)" d="M731.9,530L732.5,535L734.4,539.4L738.8,543.8L742.5,548.1L744.4,553.8L746.2,560L748.1,565.6L751.2,569.4L755.6,572.5L756.9,576.2L757.5,582.5L758.1,588.8L758.8,592.5L760,597.5L762.5,601.2L760,602.5L757.5,606.9L755.6,610.6L756.2,612.5M762.5,601.5L761.2,606.2L759.8,611.2L761.2,612.5L763.8,612.2L766.5,608.1L766.9,601.2L763.1,596.2L759.4,592.5M827.5,530L826.2,535L824.4,539.4L820,543.1L816.2,546.2L812.5,549.4L808.8,551.5L806.2,552.5L803.5,555L801.9,559.4L800,563.1L799.4,567.5L796.9,571.9L793.8,575.6L792.5,579.4L789.4,583.8L785.6,588.8L783.8,593.1L780,597.5L776.2,601.9L771.2,605L768.1,607.2L766.9,609.4L764.4,612.5"/></g>
<g stroke="#111" stroke-width="1.5" stroke-linejoin="miter"><path d="M37.2,604.5L52.2,613L83.5,622.5L99.8,629.5L116,638.8L129.8,648L131.5,662.5"/><path d="M36,331.75 L87,354 L292,439.75 L548,544.5 L661.75,590 L719.25,612 L804,614.25 L901.75,615 L987,616.25"/></g>
<g fill="#6e6e6e" stroke="none" font-family="Liberation Sans, sans-serif" font-size="10.2" text-anchor="middle" dominant-baseline="central"><text transform="translate(93,221.8) rotate(80)">1000</text><text transform="translate(671.8,140.5) rotate(85)">2000</text><text transform="translate(736,140.5) rotate(88)">3000</text><text transform="translate(800.2,213.6) rotate(-72)">4000</text><text transform="translate(889,207.4) rotate(70)">3000</text><text transform="translate(969.4,327.5) rotate(-85)">4000</text><text transform="translate(184,505.2) rotate(55)">1000</text><text transform="translate(300,532.5) rotate(-3)">2000</text><text transform="translate(771.8,428.2) rotate(-45)">3000</text><text transform="translate(535.8,611.2) rotate(-45)">3000</text><text transform="translate(571.8,638.8) rotate(85)">3000</text><text transform="translate(687.2,601.2) rotate(80)">4000</text></g>
</g>
<rect x="92.4" y="753.1" width="52.8" height="48" fill="#ffffff"/>
<rect x="144.9" y="753.1" width="52.8" height="48" fill="#00ecec"/>
<rect x="197.3" y="753.1" width="52.8" height="48" fill="#6a9ff6"/>
<rect x="249.8" y="753.1" width="52.8" height="48" fill="#3535fc"/>
<rect x="302.2" y="753.1" width="52.8" height="48" fill="#00ff00"/>
<rect x="354.7" y="753.1" width="52.8" height="48" fill="#00c800"/>
<rect x="407.1" y="753.1" width="52.8" height="48" fill="#008000"/>
<rect x="459.6" y="753.1" width="52.8" height="48" fill="#ffff00"/>
<rect x="512.1" y="753.1" width="52.8" height="48" fill="#e7c000"/>
<rect x="564.5" y="753.1" width="52.8" height="48" fill="#ff9000"/>
<rect x="617" y="753.1" width="52.8" height="48" fill="#ff3200"/>
<rect x="669.4" y="753.1" width="52.8" height="48" fill="#c01800"/>
<rect x="721.9" y="753.1" width="52.8" height="48" fill="#800000"/>
<rect x="774.3" y="753.1" width="52.8" height="48" fill="#ff00ff"/>
<rect x="826.8" y="753.1" width="52.8" height="48" fill="#9955c9"/>
<rect x="879.2" y="753.1" width="52.5" height="48" fill="#d3d3d3"/>
<g font-family="Liberation Sans, sans-serif" fill="#1a1a1a">
<text x="35.5" y="111.6" font-size="19.7" text-anchor="start">2025-12-19 03:30PM MST</text>
<text x="512.2" y="106.8" font-size="24.1" text-anchor="middle">Total Precipitation (in)</text>
<text x="987.5" y="108.6" font-size="19.7" text-anchor="end">2025-12-19_22:30:00 Z</text>
<text x="511.3" y="722" font-size="26.1" text-anchor="middle">U of A Dept of Hydrology and Atmospheric Sciences WRF-RRGFS 00Z</text>
<text x="145.2" y="831" font-size="21.8" text-anchor="middle">0.01</text>
<text x="197.6" y="831" font-size="21.8" text-anchor="middle">0.10</text>
<text x="250.1" y="831" font-size="21.8" text-anchor="middle">0.25</text>
<text x="302.5" y="831" font-size="21.8" text-anchor="middle">0.40</text>
<text x="355" y="831" font-size="21.8" text-anchor="middle">0.7</text>
<text x="407.4" y="831" font-size="21.8" text-anchor="middle">1.0</text>
<text x="459.9" y="831" font-size="21.8" text-anchor="middle">1.25</text>
<text x="512.4" y="831" font-size="21.8" text-anchor="middle">1.75</text>
<text x="564.8" y="831" font-size="21.8" text-anchor="middle">2.5</text>
<text x="617.3" y="831" font-size="21.8" text-anchor="middle">3.0</text>
<text x="669.7" y="831" font-size="21.8" text-anchor="middle">4.0</text>
<text x="722.2" y="831" font-size="21.8" text-anchor="middle">5.0</text>
<text x="774.6" y="831" font-size="21.8" text-anchor="middle">6.0</text>
<text x="827.1" y="831" font-size="21.8" text-anchor="middle">8.0</text>
<text x="879.5" y="831" font-size="21.8" text-anchor="middle">10.0</text>
</g>
</svg>
</body></html>
